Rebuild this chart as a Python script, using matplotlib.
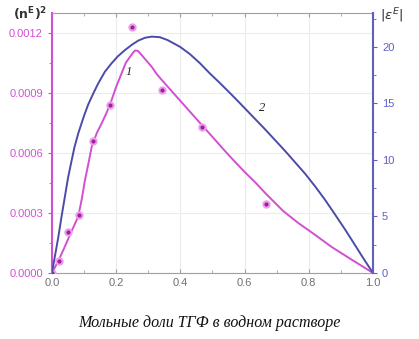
import numpy as np
import matplotlib
matplotlib.use('Agg')
import matplotlib.pyplot as plt
from matplotlib.ticker import MultipleLocator, FormatStrFormatter

# data
# experimental points (n^E)^2
x_pts = [0.0, 0.022, 0.051, 0.083, 0.129, 0.181, 0.25, 0.342, 0.469, 0.667]
y_pts = [0.0, 0.00006, 0.000205, 0.00029, 0.000657, 0.00084, 0.00123, 0.000915, 0.00073, 0.000345]

# curve 1 (left axis)
x_c1 = [0.0, 0.02, 0.04, 0.06, 0.082, 0.093, 0.103, 0.114, 0.124, 0.14, 0.155, 0.17, 0.186,
        0.2, 0.217, 0.23, 0.243, 0.252, 0.259, 0.268, 0.279, 0.295, 0.311, 0.326, 0.342,
        0.40, 0.45, 0.50, 0.55, 0.60, 0.635, 0.664, 0.72, 0.767, 0.82, 0.871, 0.93, 1.0]
y_c1 = [0.0, 0.00006, 0.000131, 0.000205, 0.000282, 0.00037, 0.000465, 0.00055, 0.000632,
        0.0007, 0.000748, 0.0008, 0.000865, 0.00093, 0.000998, 0.00105, 0.00108, 0.0011,
        0.001112, 0.00111, 0.00109, 0.00106, 0.00103, 0.000995, 0.000965,
        0.00086, 0.00077, 0.00068, 0.00059, 0.000505, 0.00045, 0.0004, 0.00031, 0.00025,
        0.00019, 0.00013, 0.00007, 0.0]

# curve 2 (right axis) |eps^E|
x_c2 = [0.0, 0.01, 0.02, 0.03, 0.04, 0.05, 0.061, 0.07, 0.082, 0.1, 0.113, 0.13, 0.144,
        0.165, 0.186, 0.205, 0.227, 0.25, 0.269, 0.29, 0.311, 0.336, 0.36, 0.399, 0.43,
        0.461, 0.49, 0.523, 0.555, 0.586, 0.625, 0.664, 0.695, 0.726, 0.757, 0.788, 0.82,
        0.85, 0.88, 0.913, 0.94, 0.97, 1.0]
y_c2 = [0.0, 1.6, 3.2, 5.0, 6.7, 8.4, 9.9, 11.1, 12.35, 13.9, 14.9, 15.95, 16.75,
        17.8, 18.55, 19.15, 19.7, 20.2, 20.55, 20.8, 20.9, 20.85, 20.6, 20.0, 19.35,
        18.55, 17.7, 16.8, 15.9, 15.0, 13.85, 12.7, 11.75, 10.8, 9.8, 8.8, 7.65,
        6.5, 5.25, 3.85, 2.65, 1.3, 0.0]

mag = '#d24fd2'
mag_dark = '#a01e9a'
blu = '#4b4ba8'
spine_blu = '#6060c0'
grey = '#a0a0a0'

fig = plt.figure(figsize=(4.19, 3.39), dpi=100)
ax = fig.add_axes([0.124, 0.195, 0.766, 0.767])
ax2 = ax.twinx()

ax.plot(x_c1, y_c1, color=mag, lw=1.4, zorder=3, solid_joinstyle='round')
ax.plot(x_pts, y_pts, 'o', ms=4.5, mfc=mag_dark, mec='#ec9cec', mew=1.5, zorder=4)
ax2.plot(x_c2, y_c2, color=blu, lw=1.4, solid_joinstyle='round')

ax.set_xlim(0, 1.0)
ax.set_ylim(0, 0.0013)
ax2.set_ylim(0, 23)

ax.xaxis.set_major_locator(MultipleLocator(0.2))
ax.xaxis.set_minor_locator(MultipleLocator(0.1))
ax.xaxis.set_major_formatter(FormatStrFormatter('%.1f'))
ax.yaxis.set_major_locator(MultipleLocator(0.0003))
ax.yaxis.set_minor_locator(MultipleLocator(0.00015))
ax.yaxis.set_major_formatter(FormatStrFormatter('%.4f'))
ax2.yaxis.set_major_locator(MultipleLocator(5))
ax2.yaxis.set_minor_locator(MultipleLocator(2.5))

ax.grid(True, which='major', color='#ececec', lw=0.8)
ax.set_axisbelow(True)

for s in ['top', 'bottom']:
    ax.spines[s].set_color(grey)
    ax2.spines[s].set_visible(False)
ax.spines['left'].set_color(mag)
ax.spines['left'].set_linewidth(1.5)
ax2.spines['left'].set_visible(False)
ax2.spines['right'].set_color(spine_blu)
ax2.spines['right'].set_linewidth(1.5)
ax.spines['right'].set_visible(False)

tf = 'Liberation Sans'
ax.tick_params(axis='x', which='both', direction='in', top=True, colors=grey,
               labelcolor='#707070', labelsize=8)
ax.tick_params(axis='x', which='major', length=3)
ax.tick_params(axis='x', which='minor', length=2)
ax.tick_params(axis='y', which='both', direction='out', colors=mag, labelcolor=mag, labelsize=8)
ax.tick_params(axis='y', which='major', length=3)
ax.tick_params(axis='y', which='minor', length=2)
ax2.tick_params(axis='y', which='both', direction='out', colors=spine_blu, labelcolor=spine_blu, labelsize=8)
ax2.tick_params(axis='y', which='major', length=3)
ax2.tick_params(axis='y', which='minor', length=2)
for lab in ax.get_xticklabels() + ax.get_yticklabels() + ax2.get_yticklabels():
    lab.set_family(tf)

ax.text(0.228, 0.00099, '1', fontsize=9, style='italic', color='#222222', family='Liberation Serif')
ax.text(0.645, 0.00081, '2', fontsize=9, style='italic', color='#222222', family='Liberation Serif')

fig.text(0.072, 0.958, r'$\mathbf{(n^E)^2}$', fontsize=9, color='#333333', ha='center', va='center')
fig.text(0.935, 0.955, r'$|\varepsilon^E|$', fontsize=9.5, color='#333333', ha='center', va='center')

fig.text(0.5, 0.047, 'Мольные доли ТГФ в водном растворе', fontsize=11.5, style='italic',
         family='Liberation Serif', ha='center', va='center', color='#111111')

fig.savefig('out.png', dpi=100)
